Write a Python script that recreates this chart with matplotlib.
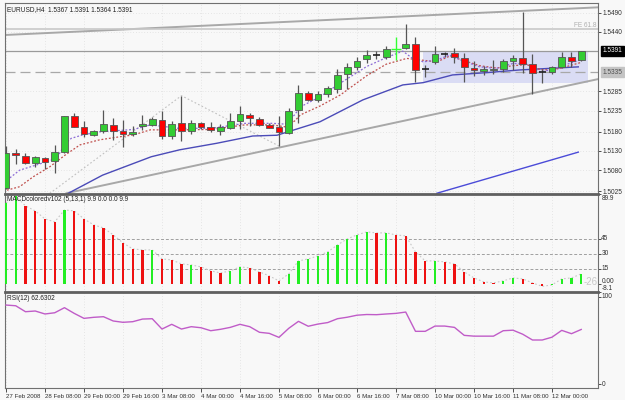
import matplotlib
matplotlib.use("Agg")
import matplotlib.pyplot as plt
from matplotlib.transforms import blended_transform_factory, offset_copy
import numpy as np

plt.rcParams['font.family'] = ['Liberation Sans', 'DejaVu Sans']

# ---------------- data ----------------
opens = [1.5033, 1.5124, 1.5116, 1.5098, 1.5111, 1.5104, 1.5128, 1.5221, 1.5192, 1.5171,
         1.5181, 1.5198, 1.5182, 1.5173, 1.5195, 1.5198, 1.5211, 1.5170, 1.5202, 1.5183,
         1.5202, 1.5192, 1.5183, 1.5190, 1.5209, 1.5224, 1.5213, 1.5197, 1.5192, 1.5176,
         1.5238, 1.5282, 1.5263, 1.5278, 1.5291, 1.5330, 1.5348, 1.5369, 1.5380, 1.5374,
         1.5396, 1.5397, 1.5408, 1.5343, 1.5362, 1.5382, 1.5384, 1.5373, 1.5346, 1.5339,
         1.5340, 1.5343, 1.5365, 1.5371, 1.5356, 1.5336, 1.5336, 1.5349, 1.5375, 1.5367]
highs = [1.5142, 1.5135, 1.5124, 1.5117, 1.5114, 1.5146, 1.5222, 1.5228, 1.5208, 1.5185,
         1.5238, 1.5217, 1.5211, 1.5195, 1.5224, 1.5219, 1.5235, 1.5208, 1.5274, 1.5211,
         1.5206, 1.5205, 1.5200, 1.5230, 1.5248, 1.5230, 1.5218, 1.5202, 1.5221, 1.5241,
         1.5302, 1.5286, 1.5286, 1.5299, 1.5343, 1.5360, 1.5375, 1.5393, 1.5391, 1.5403,
         1.5428, 1.5461, 1.5428, 1.5354, 1.5403, 1.5388, 1.5399, 1.5384, 1.5364, 1.5351,
         1.5367, 1.5369, 1.5380, 1.5491, 1.5382, 1.5343, 1.5352, 1.5388, 1.5388, 1.5391]
lows = [1.5031, 1.5095, 1.5096, 1.5089, 1.5082, 1.5072, 1.5126, 1.5192, 1.5167, 1.5170,
        1.5176, 1.5159, 1.5141, 1.5169, 1.5185, 1.5196, 1.5160, 1.5161, 1.5157, 1.5174,
        1.5187, 1.5180, 1.5172, 1.5187, 1.5187, 1.5195, 1.5195, 1.5189, 1.5143, 1.5174,
        1.5202, 1.5261, 1.5258, 1.5270, 1.5280, 1.5291, 1.5341, 1.5358, 1.5369, 1.5369,
        1.5367, 1.5395, 1.5310, 1.5323, 1.5356, 1.5375, 1.5360, 1.5310, 1.5326, 1.5328,
        1.5330, 1.5336, 1.5341, 1.5332, 1.5279, 1.5306, 1.5330, 1.5347, 1.5349, 1.5364]
closes = [1.5124, 1.5119, 1.5098, 1.5114, 1.5102, 1.5127, 1.5221, 1.5193, 1.5173, 1.5183,
          1.5199, 1.5183, 1.5173, 1.5180, 1.5201, 1.5212, 1.5170, 1.5199, 1.5182, 1.5202,
          1.5193, 1.5184, 1.5192, 1.5209, 1.5226, 1.5215, 1.5197, 1.5191, 1.5179, 1.5233,
          1.5282, 1.5263, 1.5278, 1.5293, 1.5328, 1.5348, 1.5365, 1.5380, 1.5380, 1.5396,
          1.5396, 1.5408, 1.5341, 1.5343, 1.5382, 1.5382, 1.5375, 1.5348, 1.5341, 1.5343,
          1.5343, 1.5365, 1.5373, 1.5356, 1.5334, 1.5336, 1.5349, 1.5375, 1.5364, 1.5391]
highlight_bar = 40

ma_fast_x = [0.1, 1.4, 3.8, 5.2, 6.1, 6.7, 7.9, 9.6, 11.4, 13.1, 14.8, 17.7, 21.1, 24.5, 27.3,
             28.6, 29.6, 30.2, 32.2, 34.0, 37.0, 39.0, 40.7, 41.7, 42.8, 44.2, 45.5, 46.9, 48.6,
             50.3, 52.0, 53.4, 54.8, 55.8, 56.8, 57.8, 58.9]
ma_fast_y = [1.5054, 1.5080, 1.5099, 1.5111, 1.5150, 1.5163, 1.5172, 1.5180, 1.5183, 1.5186,
             1.5198, 1.5189, 1.5189, 1.5202, 1.5202, 1.5200, 1.5224, 1.5245, 1.5271, 1.5302,
             1.5350, 1.5373, 1.5390, 1.5371, 1.5362, 1.5367, 1.5380, 1.5364, 1.5349, 1.5345,
             1.5358, 1.5356, 1.5336, 1.5341, 1.5349, 1.5358, 1.5367]
ma_mid_x = [0.1, 1.4, 2.8, 4.5, 6.1, 7.6, 9.6, 11.4, 13.1, 14.8, 17.6, 21.1, 24.5, 27.3, 28.6,
            29.6, 30.2, 32.2, 34.3, 37.0, 39.0, 41.1, 42.5, 44.2, 45.5, 46.9, 48.6, 50.3, 52.0,
            53.4, 54.8, 55.8, 56.8, 57.8, 58.9]
ma_mid_y = [1.5028, 1.5037, 1.5063, 1.5089, 1.5120, 1.5146, 1.5159, 1.5166, 1.5172, 1.5185,
            1.5185, 1.5186, 1.5198, 1.5198, 1.5193, 1.5208, 1.5224, 1.5247, 1.5276, 1.5326,
            1.5356, 1.5371, 1.5367, 1.5362, 1.5377, 1.5366, 1.5352, 1.5346, 1.5352, 1.5355,
            1.5342, 1.5341, 1.5345, 1.5352, 1.5360]
ma_slow_x = [6.4, 9.9, 14.9, 17.8, 21.6, 25.3, 27.8, 32.2, 36.6, 40.7, 42.8, 45.8, 49.3, 52.7, 58.7]
ma_slow_y = [1.5020, 1.5067, 1.5115, 1.5133, 1.5150, 1.5169, 1.5171, 1.5206, 1.5263, 1.5302,
             1.5308, 1.5328, 1.5334, 1.5341, 1.5349]
ma_long_x = [44.2, 58.7]
ma_long_y = [1.5020, 1.5127]

trend_upper_x = [-0.1, 60.72]
trend_upper_y = [1.5432, 1.5504]
trend_lower_x = [6.2, 60.7]
trend_lower_y = [1.5020, 1.5317]
zigzag_x = [0, 18, 28]
zigzag_y = [1.4935, 1.5274, 1.5143]
fe_level = 1.5448
bid_level = 1.5391
dash_level = 1.5335
box_x = [42.8, 59.7]
box_y = [1.5306, 1.5390]

macd = [81, 88, 78, 73, 65, 62, 74, 73, 65, 59, 56, 49, 41, 35, 34, 34, 25, 24, 20, 19,
        17, 13, 11, 13, 17, 16, 12, 8, 3, 10, 23, 25, 28, 32, 39, 45, 49, 52, 51, 51,
        49, 48, 32, 23, 23, 22, 20, 12, 6, 2, 1, 3, 6, 5, 1, -2.5, -1, 5, 6, 10]
macd_up = "GGRRRRGRRRRRRRRGRRRGRRRGGRRRRGGGGGGGGGRGRRRRGRRRRRRGGRRRGGGG"
macd_levels = [45, 30, 15]
macd_max, macd_min = 89.9, -8.1

rsi = [90.5, 89.7, 82.9, 83.7, 80.3, 81.7, 87.5, 81.0, 75.3, 76.5, 77.2, 72.3, 70.8, 71.5, 74.5,
       74.9, 63.1, 68.5, 63.1, 65.8, 64.6, 61.2, 62.8, 65.0, 68.5, 65.8, 59.4, 58.2, 53.6, 63.9,
       71.9, 66.3, 68.8, 70.5, 74.9, 76.6, 78.9, 79.7, 79.5, 80.3, 81.0, 82.5, 60.5, 60.5, 66.5,
       66.5, 65.0, 55.9, 55.0, 55.0, 55.0, 61.2, 61.8, 57.2, 50.6, 50.6, 53.8, 61.6, 57.8, 62.63]

time_labels = ["27 Feb 2008", "28 Feb 08:00", "29 Feb 00:00", "29 Feb 16:00", "3 Mar 08:00",
               "4 Mar 00:00", "4 Mar 16:00", "5 Mar 08:00", "6 Mar 00:00", "6 Mar 16:00",
               "7 Mar 08:00", "10 Mar 00:00", "10 Mar 16:00", "11 Mar 08:00", "12 Mar 00:00"]
price_ticks = [1.5490, 1.5440, 1.5285, 1.5235, 1.5180, 1.5130, 1.5080, 1.5025]

# ---------------- figure ----------------
W, H = 625, 400
BG = '#f8f8f8'
fig = plt.figure(figsize=(W / 100, H / 100), dpi=100, facecolor=BG)

def rect(l, t, r, b):
    return [l / W, 1 - b / H, (r - l) / W, (b - t) / H]

ax = fig.add_axes(rect(5, 3, 598, 194))
axm = fig.add_axes(rect(5, 194, 598, 292), sharex=ax)
axr = fig.add_axes(rect(5, 292, 598, 388), sharex=ax)

n = len(closes)
xs = np.arange(n)
XL = (-0.1, 60.72)
grid_kw = dict(color='#d4d4d4', lw=0.5, ls=(0, (1, 3)), zorder=0)
fs = 4.7
fst = 4.4
tcol = '#303030'

for a in (ax, axm, axr):
    a.set_facecolor(BG)
    a.set_xlim(*XL)
    for s in a.spines.values():
        s.set_color('#707070')
        s.set_linewidth(0.8)
    a.yaxis.tick_right()
    a.tick_params(axis='y', labelsize=fs, length=2, pad=1.5, colors=tcol, width=0.6)
    a.tick_params(axis='x', length=0, labelbottom=False)
    for k in range(0, n, 4):
        a.axvline(k, **grid_kw)
for a in (axm, axr):
    a.spines['top'].set_linewidth(2)
    a.spines['top'].set_color('#606060')

# ---------------- main price panel ----------------
ax.set_ylim(1.50180, 1.55153)
ax.set_yticks(price_ticks)
ax.set_yticklabels([f"{p:.4f}" for p in price_ticks])
for p in price_ticks:
    ax.axhline(p, **grid_kw)

ax.fill_between(box_x, box_y[0], box_y[1], color='#dadcf4', zorder=1, lw=0)
ax.plot(trend_upper_x, trend_upper_y, color='#a8a8a8', lw=1.4, zorder=2)
ax.plot(trend_lower_x, trend_lower_y, color='#a8a8a8', lw=1.4, zorder=2)
ax.plot(zigzag_x, zigzag_y, color='#c0c0c0', lw=0.8, ls=(0, (1.5, 2)), zorder=2)
ax.axhline(fe_level, color='#c8c8c8', lw=1.2, zorder=2)
ax.axhline(bid_level, color='#9a9a9a', lw=0.9, zorder=2)
ax.axhline(dash_level, color='#a8a8a8', lw=0.9, ls=(0, (8, 4)), zorder=2)

ax.plot(ma_slow_x, ma_slow_y, color='#4b4bb8', lw=1.0, zorder=3)
ax.plot(ma_long_x, ma_long_y, color='#4b4bd8', lw=1.0, zorder=3)
ax.plot(ma_mid_x, ma_mid_y, color='#c0504d', lw=0.9, ls=(0, (1.5, 1.5)), zorder=3)
ax.plot(ma_fast_x, ma_fast_y, color='#8c6cd6', lw=0.9, ls=(0, (1.5, 1.5)), zorder=3)

bw = 0.68
edge = '#555555'
for i in range(n):
    o, h, l, c = opens[i], highs[i], lows[i], closes[i]
    if i == highlight_bar:
        ax.vlines(i, l, h, color='#33ff33', lw=1.0, zorder=5)
        ax.hlines(c, i - bw / 2 - 0.15, i + bw / 2 + 0.15, color='#33ff33', lw=1.0, zorder=5)
        continue
    ax.vlines(i, l, h, color=edge, lw=0.9, zorder=4)
    if abs(c - o) < 0.00005:
        ax.hlines(c, i - bw / 2, i + bw / 2, color='#202020', lw=1.2, zorder=5)
    else:
        col = '#33cc33' if c > o else '#ff0000'
        ax.bar(i, abs(c - o), bottom=min(o, c), width=bw, color=col,
               edgecolor=edge, linewidth=0.6, zorder=5)

tr = blended_transform_factory(ax.transAxes, ax.transData)
ax.text(1.007, bid_level, "1.5391", transform=tr, fontsize=fs, color='white', va='center',
        ha='left', bbox=dict(boxstyle='square,pad=0.25', fc='black', ec='black'), zorder=10,
        clip_on=False)
ax.text(1.007, dash_level, "1.5335", transform=tr, fontsize=fs, color='#505050', va='center',
        ha='left', bbox=dict(boxstyle='square,pad=0.25', fc='#c4c4c4', ec='#c4c4c4'), zorder=10,
        clip_on=False)
ax.text(59.4, fe_level + 0.00008, "FE 61.8", fontsize=fs, color='#b0b0b0', ha='center',
        va='bottom', zorder=6)
ax.text(0.004, 0.985, "EURUSD,H4  1.5367 1.5391 1.5364 1.5391", transform=ax.transAxes,
        fontsize=fs, color='#202020', va='top', ha='left', zorder=10)

# ---------------- MACD panel ----------------
axm.set_ylim(macd_min, macd_max)
axm.set_yticks([macd_max] + macd_levels + [0.0, macd_min])
axm.set_yticklabels([])
trm = blended_transform_factory(axm.transAxes, axm.transData)
macd_lab = [(macd_max, "89.9", -5), (45, "45", 0), (30, "30", 0), (15, "15", 0),
            (0.0, "0.00", 2.2), (macd_min, "-8.1", 3.8)]
for v, s, dy in macd_lab:
    axm.text(1.0055, v, s, transform=offset_copy(trm, fig=fig, x=0, y=dy * 0.72, units='points'),
             fontsize=fs, color=tcol, va='center', ha='left', clip_on=False)
for lv in macd_levels:
    axm.axhline(lv, color='#a0a0a0', lw=0.7, ls=(0, (3, 2)), zorder=1)
cols = ['#22ee22' if u == 'G' else '#ee1111' for u in macd_up]
axm.bar(xs, macd, width=0.22, color=cols, zorder=3)
axm.plot(xs, macd, color='#c8c8c8', lw=0.8, ls=(0, (1.5, 2)), zorder=2)
axm.text(59.2, 1.5, "-26", fontsize=7, color='#c8c8c8', ha='left', va='center', zorder=4)
axm.text(0.004, 0.975, "MACDcoloredv102 (5,13,1) 9.9 0.0 0.0 9.9", transform=axm.transAxes,
         fontsize=fs, color='#202020', va='top', ha='left')

# ---------------- RSI panel ----------------
axr.set_ylim(-4.2, 105.4)
axr.set_yticks([100, 0])
axr.set_yticklabels([])
trr = blended_transform_factory(axr.transAxes, axr.transData)
for v, s in [(100, "100"), (0, "0")]:
    axr.text(1.0055, v, s, transform=trr, fontsize=fs, color=tcol, va='center', ha='left',
             clip_on=False)
axr.plot(xs, rsi, color='#c05cc8', lw=1.0, zorder=3)
axr.text(0.004, 0.97, "RSI(12) 62.6302", transform=axr.transAxes,
         fontsize=fs, color='#202020', va='top', ha='left')

axr.set_xticks(list(range(0, 4 * len(time_labels), 4)))
axr.set_xticklabels(time_labels)
axr.tick_params(axis='x', labelbottom=True, length=3, width=0.6, labelsize=fst, pad=1.5,
                colors=tcol)
for lab in axr.get_xticklabels():
    lab.set_ha('left')

fig.savefig("out.png", dpi=100, facecolor=BG)
